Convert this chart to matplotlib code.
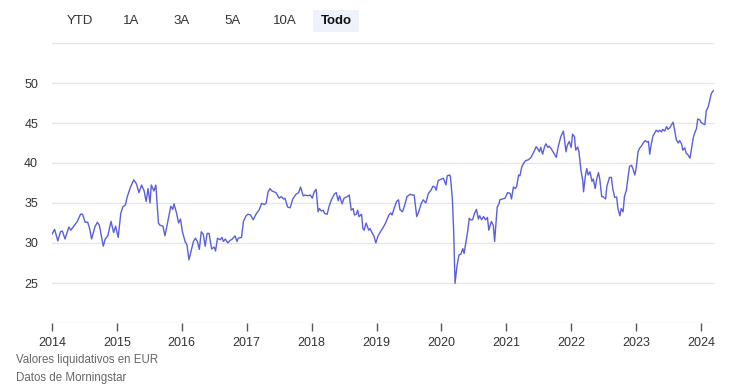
import matplotlib
matplotlib.use("Agg")
import matplotlib.pyplot as plt
from matplotlib.patches import FancyBboxPatch

# ---- data (decimal year, NAV in EUR) ----
years = [
    2014.00, 2014.04, 2014.09, 2014.13, 2014.16, 2014.20, 2014.26, 2014.29, 2014.35, 2014.39,
    2014.44, 2014.47, 2014.51, 2014.55, 2014.58, 2014.61, 2014.66, 2014.70, 2014.73, 2014.79,
    2014.82, 2014.86, 2014.91, 2014.95, 2014.98, 2015.02, 2015.06, 2015.09, 2015.13, 2015.16,
    2015.21, 2015.26, 2015.30, 2015.34, 2015.38, 2015.42, 2015.45, 2015.48, 2015.51, 2015.53,
    2015.57, 2015.60, 2015.64, 2015.66, 2015.71, 2015.74, 2015.78, 2015.83, 2015.86, 2015.88,
    2015.92, 2015.95, 2015.98, 2016.01, 2016.05, 2016.08, 2016.11, 2016.14, 2016.18, 2016.21,
    2016.24, 2016.27, 2016.30, 2016.33, 2016.36, 2016.39, 2016.42, 2016.46, 2016.50, 2016.52,
    2016.55, 2016.59, 2016.62, 2016.64, 2016.67, 2016.71, 2016.74, 2016.78, 2016.82, 2016.85,
    2016.87, 2016.92, 2016.95, 2016.99, 2017.02, 2017.06, 2017.10, 2017.15, 2017.19, 2017.23,
    2017.27, 2017.30, 2017.33, 2017.36, 2017.39, 2017.45, 2017.48, 2017.50, 2017.53, 2017.57,
    2017.59, 2017.63, 2017.67, 2017.71, 2017.76, 2017.80, 2017.83, 2017.87, 2017.90, 2017.94,
    2017.98, 2018.01, 2018.04, 2018.07, 2018.10, 2018.12, 2018.15, 2018.18, 2018.20, 2018.24,
    2018.27, 2018.31, 2018.35, 2018.38, 2018.41, 2018.43, 2018.47, 2018.50, 2018.55, 2018.58,
    2018.61, 2018.64, 2018.66, 2018.69, 2018.71, 2018.73, 2018.77, 2018.79, 2018.81, 2018.84,
    2018.88, 2018.90, 2018.93, 2018.96, 2018.99, 2019.02, 2019.06, 2019.10, 2019.14, 2019.16,
    2019.19, 2019.22, 2019.24, 2019.27, 2019.31, 2019.34, 2019.36, 2019.40, 2019.43, 2019.47,
    2019.52, 2019.55, 2019.58, 2019.62, 2019.65, 2019.69, 2019.72, 2019.76, 2019.80, 2019.84,
    2019.87, 2019.90, 2019.92, 2019.95, 2019.99, 2020.03, 2020.07, 2020.09, 2020.13, 2020.14,
    2020.17, 2020.19, 2020.21, 2020.24, 2020.27, 2020.30, 2020.33, 2020.35, 2020.38, 2020.40,
    2020.43, 2020.45, 2020.48, 2020.51, 2020.54, 2020.57, 2020.59, 2020.62, 2020.65, 2020.68,
    2020.71, 2020.73, 2020.77, 2020.80, 2020.82, 2020.86, 2020.89, 2020.90, 2020.94, 2020.98,
    2021.02, 2021.06, 2021.08, 2021.11, 2021.14, 2021.16, 2021.19, 2021.21, 2021.24, 2021.27,
    2021.30, 2021.34, 2021.38, 2021.42, 2021.46, 2021.49, 2021.51, 2021.53, 2021.56, 2021.59,
    2021.61, 2021.64, 2021.66, 2021.69, 2021.72, 2021.77, 2021.80, 2021.84, 2021.88, 2021.92,
    2021.94, 2021.97, 2022.00, 2022.02, 2022.05, 2022.07, 2022.10, 2022.12, 2022.15, 2022.18,
    2022.19, 2022.22, 2022.24, 2022.26, 2022.29, 2022.32, 2022.34, 2022.37, 2022.39, 2022.42,
    2022.44, 2022.47, 2022.49, 2022.53, 2022.55, 2022.59, 2022.62, 2022.64, 2022.67, 2022.70,
    2022.72, 2022.75, 2022.77, 2022.80, 2022.82, 2022.85, 2022.88, 2022.90, 2022.93, 2022.95,
    2022.98, 2023.00, 2023.03, 2023.05, 2023.08, 2023.11, 2023.14, 2023.17, 2023.19, 2023.21,
    2023.23, 2023.26, 2023.29, 2023.31, 2023.34, 2023.36, 2023.39, 2023.41, 2023.44, 2023.47,
    2023.49, 2023.52, 2023.54, 2023.57, 2023.59, 2023.62, 2023.65, 2023.67, 2023.70, 2023.72,
    2023.75, 2023.77, 2023.80, 2023.83, 2023.85, 2023.88, 2023.90, 2023.93, 2023.95, 2023.98,
    2024.00, 2024.03, 2024.06, 2024.08, 2024.11, 2024.13, 2024.16, 2024.19,
]
nav = [
    31.1, 31.7, 30.25, 31.4, 31.5, 30.5, 32.0, 31.6, 32.25, 32.7,
    33.6, 33.6, 32.6, 32.6, 31.8, 30.5, 32.0, 32.6, 32.2, 29.6,
    30.5, 30.9, 32.7, 31.3, 32.1, 30.7, 33.7, 34.5, 34.75, 35.8,
    37.0, 37.9, 37.4, 36.3, 37.25, 36.5, 35.2, 36.8, 35.0, 37.25,
    36.5, 37.25, 32.5, 32.25, 32.1, 30.9, 32.5, 34.6, 34.2, 34.9,
    33.7, 32.5, 33.0, 31.4, 30.2, 29.75, 27.9, 28.9, 30.2, 30.6,
    30.2, 29.2, 31.4, 31.1, 29.6, 31.2, 31.2, 29.25, 29.5, 29.0,
    30.6, 30.4, 30.7, 30.2, 30.5, 30.0, 30.3, 30.5, 30.9, 30.2,
    30.6, 30.7, 32.7, 33.4, 33.6, 33.5, 32.9, 33.7, 34.1, 34.95,
    34.8, 35.0, 36.4, 36.8, 36.5, 36.3, 35.9, 35.6, 35.8, 35.5,
    35.6, 34.5, 34.4, 35.5, 36.1, 36.3, 37.0, 35.9, 36.0, 35.9,
    36.0, 35.6, 36.4, 36.7, 33.9, 34.3, 34.0, 34.1, 33.7, 33.6,
    34.6, 35.5, 36.1, 36.3, 35.3, 35.9, 34.9, 35.6, 35.8, 36.0,
    34.1, 34.3, 33.5, 33.6, 34.1, 33.3, 33.6, 31.8, 31.6, 32.5,
    31.6, 31.8, 31.3, 30.9, 30.0, 30.8, 31.4, 31.9, 32.5, 32.9,
    33.5, 33.75, 33.5, 34.3, 35.2, 35.4, 34.2, 33.9, 34.6, 35.8,
    36.1, 36.0, 36.0, 33.3, 33.9, 34.95, 35.4, 35.0, 36.2, 36.6,
    37.1, 37.0, 36.6, 37.8, 37.95, 38.1, 37.25, 38.4, 38.5, 38.2,
    35.4, 31.2, 24.96, 27.1, 28.5, 28.6, 29.3, 28.7, 30.2, 31.2,
    33.1, 32.9, 32.9, 33.7, 34.2, 33.0, 33.4, 32.9, 33.3, 32.9,
    33.2, 31.6, 32.7, 32.2, 30.2, 34.5, 34.95, 35.4, 35.5, 35.6,
    36.3, 36.2, 35.5, 37.0, 36.8, 37.1, 38.5, 38.4, 39.55, 40.0,
    40.3, 40.4, 40.7, 41.3, 42.05, 41.7, 41.4, 41.95, 41.1, 42.05,
    42.4, 41.95, 42.1, 41.8, 41.4, 40.7, 42.05, 43.3, 44.0, 41.4,
    42.2, 42.7, 41.95, 43.6, 43.3, 41.6, 42.0, 41.4, 39.1, 37.7,
    36.4, 38.5, 39.3, 38.5, 38.9, 37.7, 38.0, 36.8, 37.9, 38.8,
    38.0, 35.8, 35.8, 35.5, 37.1, 38.2, 38.2, 36.8, 35.7, 35.75,
    34.3, 33.4, 34.3, 33.9, 35.8, 36.6, 38.5, 39.6, 39.7, 39.3,
    38.5, 39.3, 41.4, 41.8, 42.1, 42.5, 42.8, 42.6, 42.7, 41.1,
    42.2, 43.4, 43.8, 44.1, 43.9, 44.1, 43.9, 44.2, 44.0, 44.55,
    44.2, 44.4, 44.7, 45.1, 44.3, 42.9, 42.5, 42.8, 42.4, 41.6,
    41.9, 41.25, 41.0, 40.6, 41.6, 43.1, 43.7, 44.3, 45.5, 45.4,
    45.1, 44.9, 44.8, 46.5, 47.0, 47.7, 48.7, 49.05,
]

x_tick_years = [2014, 2015, 2016, 2017, 2018, 2019, 2020, 2021, 2022, 2023, 2024]
y_ticks = [20, 25, 30, 35, 40, 45, 50, 55]
y_labels = ["", "25", "30", "35", "40", "45", "50", ""]
buttons = ["YTD", "1A", "3A", "5A", "10A", "Todo"]
active_button = "Todo"
footnotes = ["Valores liquidativos en EUR", "Datos de Morningstar"]

W, H = 749, 385
fig = plt.figure(figsize=(W / 100, H / 100), dpi=100)
plt.rcParams['font.family'] = ['Liberation Sans', 'DejaVu Sans']

ax = fig.add_axes([52 / W, 1 - 323 / H, (714 - 52) / W, (323 - 43) / H])
ax.plot(years, nav, color="#5a5fdc", lw=1.0, solid_joinstyle="round")
ax.set_xlim(2014.0, 2014 + (714 - 52) / 64.9)
ax.set_ylim(20, 55)

ax.set_yticks(y_ticks)
ax.set_yticklabels(y_labels)
ax.set_xticks(x_tick_years)
ax.set_xticklabels([str(y) for y in x_tick_years])
ax.grid(axis="y", color="#e6e6e6", lw=1.0)
ax.set_axisbelow(True)
for s in ["top", "right", "left", "bottom"]:
    ax.spines[s].set_visible(False)
ax.tick_params(axis="y", length=0, pad=10, labelsize=9, labelcolor="#333333")
ax.tick_params(axis="x", length=6, width=1, color="#555555", pad=4,
               labelsize=9, labelcolor="#333333")

# button bar
btn_x = [80, 131, 182, 233, 284.5, 336]
for label, bx in zip(buttons, btn_x):
    if label == active_button:
        fig.patches.append(FancyBboxPatch((313 / W, 1 - 32 / H), 46 / W, 22 / H,
                                          boxstyle="round,pad=0,rounding_size=0.003",
                                          transform=fig.transFigure, fc="#eef2fa", ec="none"))
        fig.text(bx / W, 1 - 21 / H, label, ha="center", va="center",
                 fontsize=9.5, color="#111111", fontweight="bold")
    else:
        fig.text(bx / W, 1 - 21 / H, label, ha="center", va="center",
                 fontsize=9.5, color="#333333")

fig.text(16 / W, 1 - 360 / H, footnotes[0], ha="left", va="center", fontsize=8.3, color="#666666")
fig.text(16 / W, 1 - 378 / H, footnotes[1], ha="left", va="center", fontsize=8.3, color="#666666")

fig.savefig("out.png", dpi=100)
